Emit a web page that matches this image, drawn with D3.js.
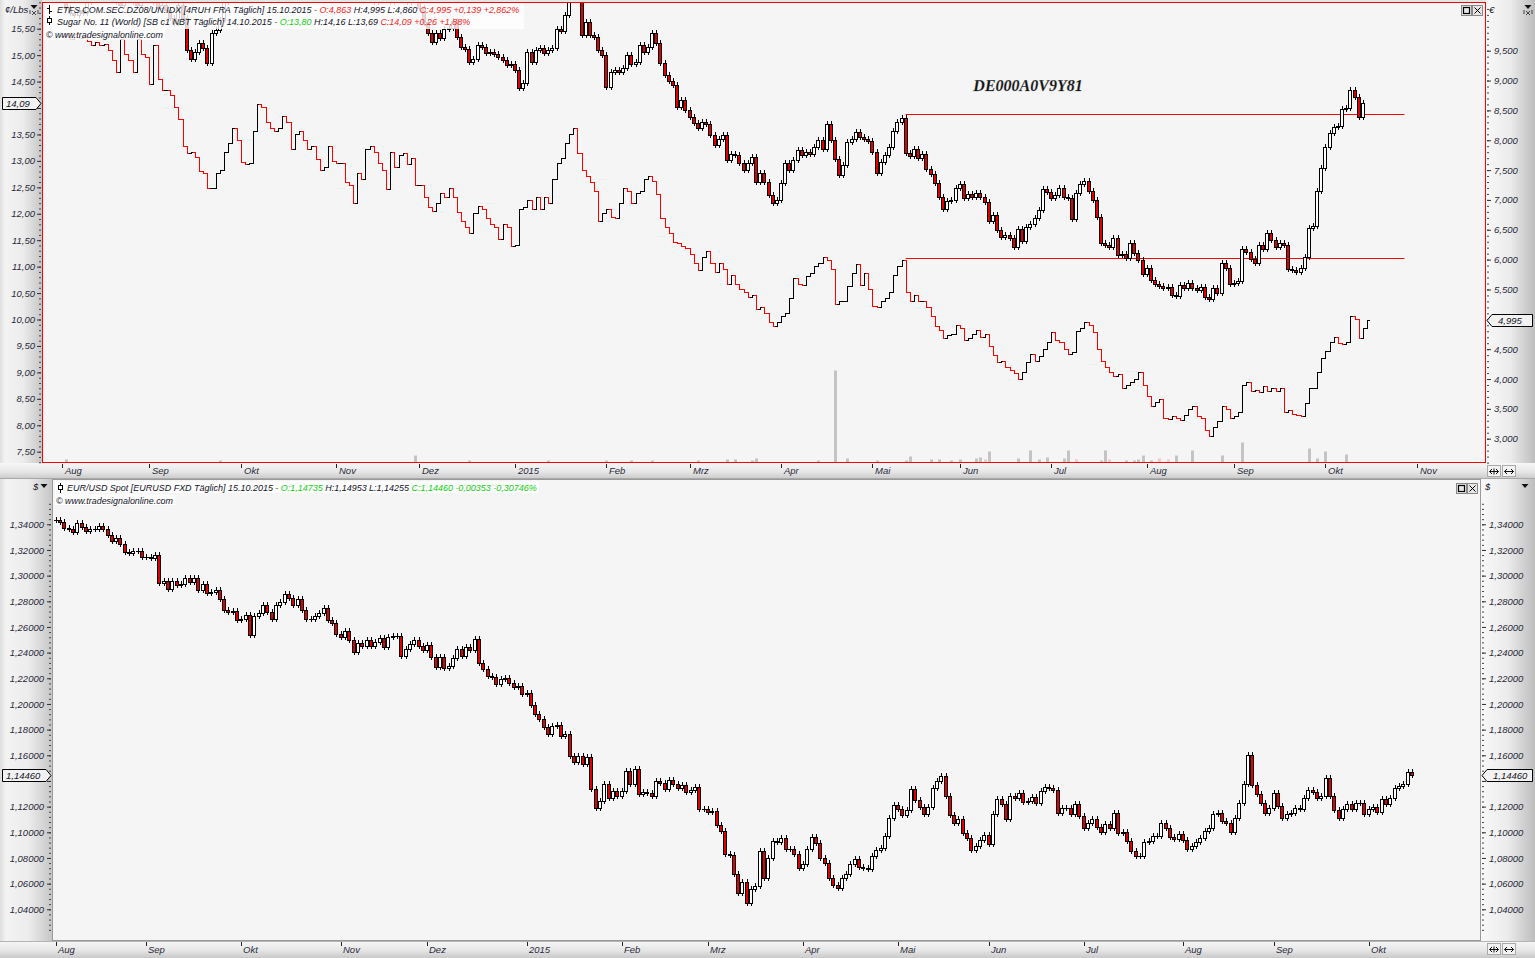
<!DOCTYPE html>
<html><head><meta charset="utf-8">
<script src="https://cdn.jsdelivr.net/npm/d3@7"></script>
<style>
html,body{margin:0;padding:0;background:#ececec;overflow:hidden}
svg{display:block}
</style>
</head><body>
<svg id="chart" width="1535" height="958" font-family="Liberation Sans, Arial, sans-serif"></svg>
<script>
// ---------------- DATA ----------------
// index 0 = 2014-08-01, one slot per weekday
const monthLabelsTop = ["Aug","Sep","Okt","Nov","Dez","2015","Feb","Mrz","Apr","Mai","Jun","Jul","Aug","Sep","Okt","Nov"];
const monthLabelsBottom = ["Aug","Sep","Okt","Nov","Dez","2015","Feb","Mrz","Apr","Mai","Jun","Jul","Aug","Sep","Okt"];
const monthStartIdx = [0,21,43,66,86,109,131,151,173,195,216,238,261,282,304,326];

// Sugar No. 11 closes (US cents/lb), left axis, candles
const sugarClose = [
16.05,15.90,15.80,15.75,15.85,15.80,16.00,16.10,16.15,16.05,
16.10,16.20,16.10,16.00,15.95,16.05,16.10,16.00,15.95,16.05,
16.15,16.10,16.00,15.90,15.95,15.85,15.70,15.60,15.95,15.70,
15.10,14.92,15.05,15.23,15.14,14.86,15.42,15.48,15.67,
16.00,16.20,16.40,16.30,16.50,16.60,16.40,16.70,16.90,16.80,
16.60,16.50,16.70,16.90,17.00,16.80,16.60,16.70,16.50,16.30,
16.40,16.60,16.50,16.30,16.20,16.40,16.30,16.10,16.20,16.40,
16.30,16.20,16.10,16.30,16.20,16.10,16.00,16.20,16.30,16.10,
16.00,16.10,16.20,16.10,16.00,16.10,16.20,
15.90,15.62,15.42,15.25,15.42,15.33,15.50,15.52,15.65,15.35,
15.16,15.12,14.87,14.93,15.20,15.16,15.04,15.06,
15.02,
14.97,14.91,14.82,14.84,14.72,14.38,14.48,15.06,14.87,15.10,
15.14,15.04,15.10,15.14,15.50,15.45,15.75,16.05,16.30,16.20,
15.39,15.63,15.39,15.35,15.10,15.00,14.40,14.68,14.72,14.68,
14.76,15.01,14.84,14.87,15.20,15.06,15.15,15.42,15.23,14.86,
14.63,14.51,14.44,14.02,14.15,13.96,13.83,13.72,13.62,13.74,
13.70,13.49,13.30,13.42,13.49,13.02,13.13,13.11,12.96,12.83,
12.96,13.07,12.60,12.77,12.60,12.35,12.20,12.26,12.58,12.96,
12.83,13.02,13.21,13.11,
13.16,
13.13,13.26,13.40,13.23,13.70,13.40,13.04,12.73,12.92,13.36,
13.42,13.55,13.45,13.41,13.38,13.17,12.77,12.98,13.11,13.26,
13.57,13.74,13.81,13.15,13.09,13.23,13.05,13.13,12.85,12.75,
12.58,12.32,12.09,12.24,12.26,12.49,12.56,12.30,12.37,12.32,
12.39,12.32,12.22,11.86,11.97,11.69,11.56,11.60,11.54,
11.37,11.71,11.48,11.75,11.80,11.92,12.07,12.47,12.41,12.30,
12.35,12.49,12.32,12.30,11.90,12.39,12.56,12.62,12.43,12.26,
11.94,11.44,11.41,11.37,11.54,11.22,11.23,11.16,11.44,11.25,
11.12,10.87,10.98,10.74,10.68,10.63,10.60,10.61,10.46,10.44,
10.65,10.59,10.70,10.59,
10.55,
10.61,10.42,10.38,10.59,10.51,11.06,10.97,10.68,10.70,10.72,
11.33,11.27,11.15,11.06,11.41,11.33,11.63,11.50,11.37,11.44,
11.40,10.95,10.93,10.89,10.97,11.18,11.73,11.77,12.43,12.87,
13.26,13.53,13.64,13.66,13.98,14.00,14.34,14.21,13.83,14.09
];

// ETFS DE000A0V9Y81 closes (EUR), right axis, OHLC bars
const etfsClose = [
9.75,9.80,9.70,9.78,9.72,9.74,9.66,9.60,9.65,
9.60,9.62,9.52,9.35,9.15,9.70,9.45,9.35,9.15,9.70,9.45,9.40,
8.95,9.60,9.03,8.85,8.85,8.75,8.55,8.35,
7.91,7.79,7.80,7.72,7.49,7.45,7.20,7.20,7.45,7.50,
7.80,7.95,8.20,8.00,7.64,7.60,7.62,8.16,8.60,8.55,
8.30,8.20,8.15,8.20,8.40,8.30,7.85,8.10,8.15,8.00,7.85,7.90,
7.69,7.50,7.55,7.90,7.66,7.62,7.62,7.30,7.25,6.95,7.45,7.35,7.85,7.90,7.80,7.62,
7.50,7.19,7.80,7.55,7.75,7.78,7.60,7.70,7.25,7.25,7.05,6.88,6.82,6.95,
7.12,7.05,7.20,7.05,6.80,6.65,6.55,6.45,6.78,6.90,6.85,6.70,6.60,6.55,
6.35,6.60,6.55,6.22,6.25,6.85,6.88,7.00,6.85,7.05,6.85,7.05,6.95,
7.35,7.62,7.70,7.95,8.10,8.20,7.78,7.50,7.40,7.30,7.15,6.65,
6.78,6.85,6.72,6.70,6.95,7.20,7.15,6.95,7.12,7.15,7.35,7.40,7.32,7.10,6.70,6.55,6.45,6.30,6.28,6.22,6.20,
6.10,
5.95,5.82,6.05,6.15,5.95,5.80,5.95,5.85,5.60,5.75,5.60,5.50,5.45,5.37,
5.40,5.18,5.20,5.10,4.96,4.88,4.95,5.05,5.10,5.35,5.70,5.60,5.58,5.72,5.78,5.90,5.95,6.05,
6.00,5.85,5.25,5.30,5.30,5.55,5.78,5.92,5.58,5.78,5.50,5.22,5.20,5.30,5.35,5.45,5.75,5.90,6.00,
5.45,5.30,5.40,5.30,5.30,5.20,5.05,4.88,4.82,4.68,4.73,4.75,4.90,4.85,4.65,4.68,4.75,4.82,4.70,4.75,
4.55,4.40,4.28,4.30,4.20,4.15,4.10,4.00,4.12,4.28,4.42,4.30,4.38,4.50,4.62,4.78,4.65,
4.62,4.50,4.42,4.45,4.81,4.85,4.95,4.90,4.78,4.50,4.30,4.20,4.12,4.05,4.08,3.85,3.90,3.95,
4.00,4.12,3.90,3.72,3.55,3.62,3.67,3.35,3.33,3.38,3.35,3.32,3.40,3.50,3.55,3.38,3.35,3.15,3.05,3.20,
3.30,3.55,3.50,3.35,3.38,3.45,3.90,3.95,3.80,3.82,3.78,3.88,3.80,3.85,3.80,3.85,3.45,3.48,3.42,3.40,
3.38,3.60,3.85,3.85,4.12,4.35,4.47,4.62,4.70,4.60,4.58,4.62,5.06,5.01,4.69,4.856,4.995
];

// ETFS volume (sparse: weekday index / value / down day)
const volIdx  = [1,38,85,98,117,131,137,142,153,160,162,166,167,182,186,189,196,203,204,209,211,214,216,220,221,222,223,230,233,235,237,241,242,244,250,251,252,256,258,259,260,262,264,266,268,272,279,284,300,302,304,309];
const volVal  = [300,200,700,200,200,200,200,200,200,300,300,200,400,200,9200,400,200,200,600,300,300,200,300,400,500,300,1100,400,1200,300,500,400,1200,300,200,1200,300,200,200,300,700,200,400,300,700,1200,700,2000,1400,400,1100,800];
const volDown = [0,0,0,0,0,0,0,0,0,0,0,0,0,0,0,0,0,0,0,0,0,0,0,0,0,1,0,0,0,0,0,0,0,1,0,0,1,0,0,0,0,0,1,1,0,0,0,0,0,0,0,0];

// EUR/USD closes, bottom panel candles
const eurusdClose = [
1.3430,1.3418,1.3370,1.3360,1.3340,1.3410,1.3380,1.3350,1.3360,1.3365,
1.3390,1.3360,1.3320,1.3270,1.3290,1.3245,1.3185,1.3175,1.3195,1.3190,
1.3145,1.3145,1.3135,1.3160,1.2945,1.2960,1.2895,1.2955,1.2925,1.2935,
1.2980,1.2950,1.2985,1.2885,1.2935,1.2865,1.2875,1.2890,1.2815,1.2735,
1.2715,1.2725,1.2655,1.2663,1.2695,1.2535,1.2685,1.2705,1.2770,1.2715,
1.2665,1.2775,1.2795,1.2855,1.2825,1.2775,1.2820,1.2735,1.2665,1.2665,
1.2685,1.2710,1.2745,1.2655,1.2630,1.2545,1.2525,1.2565,1.2495,1.2405,
1.2475,1.2450,1.2495,1.2455,1.2485,1.2517,1.2441,1.2525,1.2533,1.2533,
1.2377,1.2431,1.2470,1.2502,1.2455,1.2424,1.2463,1.2369,1.2291,1.2369,
1.2283,1.2299,1.2361,1.2431,1.2377,1.2447,1.2424,1.2509,1.2322,1.2275,
1.2220,1.2213,1.2158,1.2197,1.2205,1.2166,1.2134,1.2142,1.2080,1.2088,
1.1994,1.1924,1.1885,1.1822,1.1767,1.1830,1.1838,1.1752,1.1767,1.1595,
1.1548,1.1595,1.1533,1.1587,1.1338,1.1189,1.1244,1.1377,1.1267,1.1322,
1.1283,1.1322,1.1478,1.1377,1.1494,1.1298,1.1314,1.1306,1.1283,1.1400,
1.1384,1.1338,1.1408,1.1377,1.1345,1.1369,1.1314,1.1330,1.1353,1.1181,
1.1181,1.1158,1.1166,1.1056,1.1009,1.0830,1.0822,1.0674,1.0525,1.0611,
1.0447,1.0556,1.0580,1.0853,1.0642,1.0798,1.0931,1.0923,1.0955,1.0869,
1.0869,1.0830,1.0720,1.0752,1.0869,1.0962,1.0916,1.0798,1.0759,1.0642,
1.0588,1.0564,1.0642,1.0674,1.0752,1.0791,1.0728,1.0720,1.0713,1.0814,
1.0861,1.0877,1.0970,1.1111,1.1213,1.1181,1.1134,1.1173,1.1338,1.1252,
1.1197,1.1142,1.1197,1.1345,1.1400,1.1439,1.1283,1.1134,1.1072,1.1103,
1.0994,1.0955,1.0861,1.0892,1.0939,1.0978,1.0908,1.1142,1.1259,1.1220,
1.1103,1.1283,1.1267,1.1306,1.1236,1.1244,1.1275,1.1228,1.1322,1.1353,
1.1345,1.1330,1.1150,1.1189,1.1189,1.1142,1.1220,1.1127,1.1033,1.1072,
1.1103,1.1041,1.1002,1.1064,1.1033,1.1150,1.0994,1.1002,1.0931,1.0853,
1.0814,1.0814,1.0923,1.0931,1.0970,1.0970,1.1072,1.1033,1.0963,1.0945,
1.0985,1.0939,1.0869,1.0892,1.0923,1.0955,1.1009,1.1033,1.1142,1.1150,
1.1088,1.1072,1.1002,1.1111,1.1228,1.1377,1.1603,1.1369,1.1298,1.1228,
1.1150,1.1189,1.1306,1.1205,1.1111,1.1142,1.1150,1.1189,1.1180,1.1267,
1.1330,1.1314,1.1267,1.1283,1.1423,1.1283,1.1173,1.1111,1.1181,1.1220,
1.1181,1.1228,1.1228,1.1142,1.1181,1.1197,1.1158,1.1259,1.1220,1.1267,
1.1345,1.1361,1.1377,1.1470,1.1446
];

// drawn horizontal lines (axis, value, from index, to index)
const hLineAxis = ["left","right"];
const hLineValue = [13.88, 6.02];
const hLineFrom = [203, 203];
const hLineTo = [323, 323];

const sugarTicks = d3.range(7.5, 15.51, 0.5);
const etfsTicks = d3.range(3.0, 9.51, 0.5);
const eurTicks = d3.range(1.04, 1.3401, 0.02);

// ---------------- DRAW ----------------
const svg = d3.select("#chart");
const defs = svg.append("defs");
function grad(id, horiz, stops){
  const g = defs.append("linearGradient").attr("id", id)
    .attr("x1",0).attr("y1",0).attr("x2",horiz?1:0).attr("y2",horiz?0:1);
  stops.forEach(s => g.append("stop").attr("offset", s[0]).attr("stop-color", s[1]));
}
grad("gL", true, [[0,"#dedede"],[0.12,"#f3f3f3"],[0.55,"#ececec"],[1,"#c6c6c6"]]);
grad("gR", true, [[0,"#f8f8f8"],[0.5,"#ebebeb"],[1,"#bdbdbd"]]);
grad("gS", false, [[0,"#f7f7f7"],[0.55,"#e6e6e6"],[1,"#c9c9c9"]]);

const comma = (f) => (v) => d3.format(f)(v).replace(".", ",");

const TOP = {x0:42.5, y0:2.5, x1:1485.5, y1:463};
const BOT = {x0:52.5, y0:479.5, x1:1480.5, y1:940.5};

svg.append("rect").attr("width",1535).attr("height",958).attr("fill","#e4e4e4");
svg.append("rect").attr("x",0).attr("y",0).attr("width",42).attr("height",463).attr("fill","url(#gL)");
svg.append("rect").attr("x",1486).attr("y",0).attr("width",49).attr("height",463).attr("fill","url(#gR)");
svg.append("rect").attr("x",0).attr("y",479).attr("width",52).attr("height",462).attr("fill","url(#gL)");
svg.append("rect").attr("x",1481).attr("y",479).attr("width",54).attr("height",462).attr("fill","url(#gR)");
svg.append("rect").attr("x",0).attr("y",463).attr("width",1535).attr("height",16).attr("fill","url(#gS)");
svg.append("rect").attr("x",0).attr("y",941).attr("width",1535).attr("height",17).attr("fill","url(#gS)");
svg.append("line").attr("x1",0).attr("x2",1535).attr("y1",478.5).attr("y2",478.5).attr("stroke","#a8a8a8");
svg.append("line").attr("x1",0).attr("x2",1535).attr("y1",941.5).attr("y2",941.5).attr("stroke","#b4b4b4");

svg.append("rect").attr("x",TOP.x0).attr("y",TOP.y0).attr("width",TOP.x1-TOP.x0).attr("height",TOP.y1-TOP.y0).attr("fill","#f5f5f5");
svg.append("rect").attr("x",BOT.x0).attr("y",BOT.y0).attr("width",BOT.x1-BOT.x0).attr("height",BOT.y1-BOT.y0).attr("fill","#f5f5f5");

defs.append("clipPath").attr("id","clipTop").append("rect").attr("x",TOP.x0+0.5).attr("y",TOP.y0+0.5).attr("width",TOP.x1-TOP.x0-1).attr("height",TOP.y1-TOP.y0-1);
defs.append("clipPath").attr("id","clipBot").append("rect").attr("x",BOT.x0+0.5).attr("y",BOT.y0+0.5).attr("width",BOT.x1-BOT.x0-1).attr("height",BOT.y1-BOT.y0-1);

const xTop = d3.scaleLinear().domain([0, 314]).range([62, 1367]);
const xBot = d3.scaleLinear().domain([0, 314]).range([55.7, 1412]);
const yL = d3.scaleLinear().domain([7.5, 15.5]).range([451.7, 28.7]);
const yR = d3.scaleLinear().domain([3.0, 9.5]).range([438.7, 50.7]);
const yVol = d3.scaleLinear().domain([0, 46000]).range([462.5, 2.5]);
const yB = d3.scaleLinear().domain([1.04, 1.34]).range([909.3, 524.3]);

const WICK = 3;
const px = v => Math.round(v) + 0.5;

const gTop = svg.append("g").attr("clip-path","url(#clipTop)");

gTop.append("g").selectAll("rect").data(volIdx).join("rect")
  .attr("x", (d) => Math.round(xTop(d)) - 1)
  .attr("width", 3)
  .attr("y", (d,i) => yVol(volVal[i]))
  .attr("height", (d,i) => yVol(0) - yVol(volVal[i]))
  .attr("fill", (d,i) => volDown[i] ? "#f2c8c8" : "#c4c4c4");

gTop.append("g").selectAll("line").data(hLineValue).join("line")
  .attr("x1", (d,i) => xTop(hLineFrom[i])).attr("x2", (d,i) => xTop(hLineTo[i]))
  .attr("y1", (d,i) => px(hLineAxis[i]==="left" ? yL(d) : yR(d)))
  .attr("y2", (d,i) => px(hLineAxis[i]==="left" ? yL(d) : yR(d)))
  .attr("stroke", "#ff0000").attr("stroke-width", 1);

function drawCandles(g, closes, xs, ys){
  const gg = g.append("g");
  closes.forEach((c, i) => {
    const o = i ? closes[i-1] : c;
    const cx = Math.round(xs(i));
    const yo = Math.round(ys(o)), yc = Math.round(ys(c));
    const t = Math.min(yo, yc), b = Math.max(yo, yc);
    gg.append("line").attr("x1", cx+0.5).attr("x2", cx+0.5).attr("y1", t-WICK).attr("y2", b+WICK)
      .attr("stroke","#000").attr("stroke-width",1);
    if (b - t < 1) {
      gg.append("line").attr("x1", cx-2).attr("x2", cx+3).attr("y1", t+0.5).attr("y2", t+0.5).attr("stroke","#000");
    } else {
      gg.append("rect").attr("x", cx-1.5).attr("y", t+0.5).attr("width", 3).attr("height", b-t)
        .attr("fill", c < o ? "#e00000" : "#ffffff").attr("stroke","#000").attr("stroke-width",1);
    }
  });
}
function drawBars(g, closes, xs, ys){
  const gg = g.append("g");
  closes.forEach((c, i) => {
    const o = i ? closes[i-1] : c;
    const cx = Math.round(xs(i));
    const yo = px(ys(o)), yc = px(ys(c));
    const col = c < o ? "#ff0000" : "#000000";
    const t = Math.min(yo, yc) - 0.5, b = Math.max(yo, yc) + 0.5;
    gg.append("path")
      .attr("d", `M${cx+0.5},${t}V${b}M${cx-2},${yo}H${cx}M${cx+1},${yc}H${cx+3}`)
      .attr("stroke", col).attr("stroke-width",1).attr("fill","none");
  });
}
drawBars(gTop, etfsClose, xTop, yR);
drawCandles(gTop, sugarClose, xTop, yL);

const gBot = svg.append("g").attr("clip-path","url(#clipBot)");
drawCandles(gBot, eurusdClose, xBot, yB);

svg.append("rect").attr("x",TOP.x0).attr("y",TOP.y0).attr("width",TOP.x1-TOP.x0).attr("height",TOP.y1-TOP.y0-0.5)
  .attr("fill","none").attr("stroke","#ff0000");
svg.append("rect").attr("x",BOT.x0).attr("y",BOT.y0).attr("width",BOT.x1-BOT.x0).attr("height",BOT.y1-BOT.y0)
  .attr("fill","none").attr("stroke","#9a9a9a");

// ---- axes ----
const lblColor = "#2a2a3a";
const lastSugar = sugarClose[sugarClose.length-1];
const lastEtfs = etfsClose[etfsClose.length-1];
const lastEur = eurusdClose[eurusdClose.length-1];
function styleAxis(g, scale, markerVal){
  g.select(".domain").remove();
  g.selectAll("line").attr("stroke","#333");
  g.selectAll("text").attr("font-size","9.5px").attr("font-style","italic").attr("fill",lblColor);
  // labels hidden behind the last-price marker
  g.selectAll(".tick").filter(d => Math.abs(scale(d) - scale(markerVal)) < 9).select("text").remove();
}
function minor(axisFn, scale, x, step, lo, hi){
  const g = svg.append("g").attr("transform",`translate(${x},0)`)
    .call(axisFn(scale).tickValues(d3.range(lo, hi, step)).tickSize(2).tickFormat(""));
  g.select(".domain").remove();
  g.selectAll("line").attr("stroke","#444");
}
minor(d3.axisLeft, yL, 41, 0.1, 7.3, 16.05);
styleAxis(svg.append("g").attr("transform","translate(41,0)")
  .call(d3.axisLeft(yL).tickValues(sugarTicks).tickSize(4).tickPadding(2).tickFormat(comma(".2f"))), yL, lastSugar);
minor(d3.axisRight, yR, 1487, 0.1, 2.6, 10.3);
styleAxis(svg.append("g").attr("transform","translate(1487,0)")
  .call(d3.axisRight(yR).tickValues(etfsTicks).tickSize(4).tickPadding(3).tickFormat(comma(".3f"))), yR, lastEtfs);
minor(d3.axisLeft, yB, 51, 0.004, 1.024, 1.3561);
styleAxis(svg.append("g").attr("transform","translate(51,0)")
  .call(d3.axisLeft(yB).tickValues(eurTicks).tickSize(4).tickPadding(3).tickFormat(comma(".5f"))), yB, lastEur);
minor(d3.axisRight, yB, 1482, 0.004, 1.024, 1.3561);
styleAxis(svg.append("g").attr("transform","translate(1482,0)")
  .call(d3.axisRight(yB).tickValues(eurTicks).tickSize(4).tickPadding(3).tickFormat(comma(".5f"))), yB, lastEur);

function monthAxis(xs, labels, yTick, yText, dx){
  const g = svg.append("g");
  labels.forEach((lab, k) => {
    const x = Math.round(xs(monthStartIdx[k])) + 0.5;
    g.append("line").attr("x1",x).attr("x2",x).attr("y1",yTick).attr("y2",yTick+4).attr("stroke","#222");
    g.append("text").attr("x", x+dx).attr("y", yText).text(lab)
      .attr("font-size","9.5px").attr("font-style","italic").attr("fill",lblColor);
  });
}
monthAxis(xTop, monthLabelsTop, 464, 474, 2.5);
monthAxis(xBot, monthLabelsBottom, 942, 953, 1.5);

// ---- headers ----
function headerBg(x, y, w, h){ svg.append("rect").attr("x",x).attr("y",y).attr("width",w).attr("height",h).attr("fill","#ffffff").attr("opacity",0.82); }
function headerLine(x, y, len, parts){
  const t = svg.append("text").attr("x",x).attr("y",y).attr("font-size","9.5px").attr("font-style","italic");
  parts.forEach(p => t.append("tspan").attr("fill", p[1]).text(p[0]));
  const w = t.node().getComputedTextLength();
  t.attr("font-size", (9.5 * len / w).toFixed(2) + "px");
}
const BLK = "#141428", RED = "#ff1a1a", GRN = "#12d012";
headerBg(44, 3, 480, 26);
headerBg(44, 29, 121, 11);
headerLine(57, 12.5, 463, [["ETFS COM.SEC.DZ08/UN.IDX [4RUH FRA  Täglich] 15.10.2015 - ",BLK],["O:4,863",RED],[" H:4,995 L:4,860 ",BLK],["C:4,995 +0,139 +2,862%",RED]]);
headerLine(57, 25, 413, [["Sugar No. 11 (World) [SB c1 NBT  Täglich] 14.10.2015 - ",BLK],["O:13,80",GRN],[" H:14,16 L:13,69 ",BLK],["C:14,09 +0,26 +1,88%",RED]]);
headerLine(46, 37.5, 117, [["© www.tradesignalonline.com",BLK]]);
svg.append("path").attr("d","M49.5,5V14M47,8.5H49M50,11.5H52").attr("stroke","#000").attr("fill","none");
svg.append("path").attr("d","M49.5,16V25").attr("stroke","#000");
svg.append("rect").attr("x",47.5).attr("y",18.5).attr("width",4).attr("height",4).attr("fill","#fff").attr("stroke","#000");

headerBg(55, 481, 484, 12);
headerBg(55, 494, 120, 11);
headerLine(67, 490.5, 470, [["EUR/USD Spot [EURUSD FXD  Täglich] 15.10.2015 - ",BLK],["O:1,14735",GRN],[" H:1,14953 L:1,14255 ",BLK],["C:1,14460 -0,00353 -0,30746%",GRN]]);
headerLine(56, 504, 117, [["© www.tradesignalonline.com",BLK]]);
svg.append("path").attr("d","M60.5,483V493").attr("stroke","#000");
svg.append("rect").attr("x",58.5).attr("y",485.5).attr("width",4).attr("height",4).attr("fill","#fff").attr("stroke","#000");

// ISIN label
svg.append("text").attr("x",1028).attr("y",91).attr("text-anchor","middle")
  .style("font-family","'Liberation Serif', 'Times New Roman', serif").attr("font-weight","bold").attr("font-style","italic")
  .attr("font-size","16px").attr("fill","#111").attr("stroke","#999").attr("stroke-width",0.25).text("DE000A0V9Y81");

function smallText(x,y,txt,size,anchor){ svg.append("text").attr("x",x).attr("y",y).attr("font-size",size||"9.5px").attr("font-style","italic").attr("fill",BLK).attr("text-anchor",anchor||"start").text(txt); }
smallText(5,12.5,"¢/Lbs");
smallText(1489,12.5,"€");
smallText(33,490,"$");
smallText(1485,490,"$");
function tri(x,y){ svg.append("path").attr("d",`M${x-3.5},${y}H${x+3.5}L${x},${y+4}Z`).attr("fill","#111"); }
tri(34,5); tri(1528,5); tri(44,484); tri(1525,484);
function tinyX(x,y){ svg.append("path").attr("d",`M${x-2},${y-2}L${x+2},${y+2}M${x+2},${y-2}L${x-2},${y+2}M${x-4},${y-3}V${y+1}M${x+4},${y-3}V${y+1}`).attr("stroke","#222").attr("stroke-width",0.8).attr("fill","none"); }
tinyX(34,13); tinyX(1528,13);

function buttons(x,y){
  svg.append("rect").attr("x",x+0.5).attr("y",y+0.5).attr("width",10).attr("height",10).attr("fill","#e6e6e6").attr("stroke","#888");
  svg.append("rect").attr("x",x+2.5).attr("y",y+2.5).attr("width",6).attr("height",6).attr("fill","none").attr("stroke","#000").attr("stroke-width",1.2);
  svg.append("rect").attr("x",x+11.5).attr("y",y+0.5).attr("width",10).attr("height",10).attr("fill","#e6e6e6").attr("stroke","#888");
  svg.append("path").attr("d",`M${x+13.5},${y+2.5}L${x+19.5},${y+8.5}M${x+19.5},${y+2.5}L${x+13.5},${y+8.5}`).attr("stroke","#000");
}
buttons(1461,5); buttons(1456,483);
function arrows(x,y){
  [0,15].forEach((d,k) => {
    const bx = x + d;
    svg.append("rect").attr("x",bx+0.5).attr("y",y+0.5).attr("width",13).attr("height",11).attr("fill","#f2f2f2").attr("stroke","#aaa");
    const my = y + 6.5;
    svg.append("path").attr("d",`M${bx+2.5},${my}H${bx+11.5}M${bx+2.5},${my}l2.5,-2.5M${bx+2.5},${my}l2.5,2.5M${bx+11.5},${my}l-2.5,-2.5M${bx+11.5},${my}l-2.5,2.5` + (k===0?`M${bx+7},${my-3}V${my+3}`:""))
      .attr("stroke","#111").attr("fill","none").attr("stroke-width",1);
  });
}
arrows(1487,465); arrows(1487,943);

function markerLeft(y, txt, w){
  y = Math.round(y)+0.5;
  svg.append("path").attr("d",`M2.5,${y-6}H${w-5}L${w},${y}L${w-5},${y+6}H2.5Z`).attr("fill","#f2f2f2").attr("stroke","#000");
  svg.append("text").attr("x",6).attr("y",y+3.5).attr("font-size","9.5px").attr("font-style","italic").attr("fill",BLK).text(txt);
}
function markerRight(y, txt, x0){
  y = Math.round(y)+0.5;
  svg.append("path").attr("d",`M${x0},${y}L${x0+5},${y-6}H1532.5V${y+6}H${x0+5}Z`).attr("fill","#f2f2f2").attr("stroke","#000");
  svg.append("text").attr("x",x0+11).attr("y",y+3.5).attr("font-size","9.5px").attr("font-style","italic").attr("fill",BLK).text(txt);
}
markerLeft(yL(lastSugar), comma(".2f")(lastSugar), 41);
markerRight(yR(lastEtfs), comma(".3f")(lastEtfs), 1487);
markerLeft(yB(lastEur), comma(".5f")(lastEur), 51);
markerRight(yB(lastEur), comma(".5f")(lastEur), 1482);
</script>
</body></html>
